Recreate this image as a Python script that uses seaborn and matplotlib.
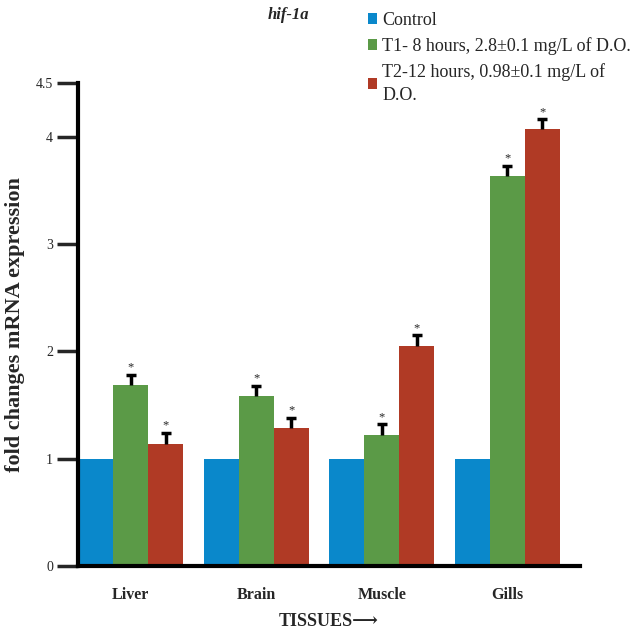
import numpy as np
import pandas as pd
import matplotlib
matplotlib.use("Agg")
import matplotlib.pyplot as plt
import seaborn as sns

tissues = ["Liver", "Brain", "Muscle", "Gills"]
groups = ["Control", "T1- 8 hours, 2.8\u00b10.1 mg/L of D.O.",
          "T2-12 hours, 0.98\u00b10.1 mg/L of\nD.O."]
control = [1.0, 1.0, 1.0, 1.0]
t1 = [1.69, 1.58, 1.22, 3.63]
t2 = [1.14, 1.29, 2.05, 4.07]
t1_err = [0.09, 0.10, 0.10, 0.10]
t2_err = [0.10, 0.09, 0.10, 0.09]
colors = ["#0a88cb", "#5b9a47", "#b03a25"]
yticks = [0, 1, 2, 3, 4, 4.5]
yticklabels = ["0", "1", "2", "3", "4", "4.5"]

sns.set_style("white")
plt.rcParams['font.family'] = ['Liberation Serif', 'DejaVu Serif', 'DejaVu Sans']

rows = []
for g, vals in zip(groups, [control, t1, t2]):
    for t, v in zip(tissues, vals):
        rows.append({"tissue": t, "group": g, "value": v})
df = pd.DataFrame(rows)

fig = plt.figure(figsize=(6.32, 6.32), dpi=100)
ax = fig.add_axes([78/632, 1-566/632, (580-78)/632, (566-83)/632])

sns.barplot(data=df, x="tissue", y="value", hue="group", order=tissues,
            hue_order=groups, palette=colors, width=0.84, errorbar=None,
            saturation=1, linewidth=0, ax=ax)

handles, labels = ax.get_legend_handles_labels()
if ax.get_legend() is not None:
    ax.get_legend().remove()

errs = [None, t1_err, t2_err]
for cont, err in zip(ax.containers, errs):
    if err is None:
        continue
    xs = [b.get_x() + b.get_width()/2 for b in cont]
    hs = [b.get_height() for b in cont]
    eb = ax.errorbar(xs, hs, yerr=[np.zeros(len(err)), err], fmt="none",
                     ecolor="black", elinewidth=2.5, capsize=3.6, capthick=2.5,
                     zorder=5)
    caplines = eb[1]
    if len(caplines) >= 1:
        caplines[0].set_visible(False)
    for x, h, e in zip(xs, hs, err):
        ax.annotate("*", (x, h + e), xytext=(0, 1), textcoords="offset points",
                    ha="center", va="bottom", fontsize=9)

ax.set_xlim(-0.42, 3.58)
ax.set_ylim(0, 4.5)
ax.set_yticks(yticks)
ax.set_yticklabels(yticklabels, fontsize=10)
for sp in ["top", "right"]:
    ax.spines[sp].set_visible(False)
for sp in ["left", "bottom"]:
    ax.spines[sp].set_linewidth(3)
    ax.spines[sp].set_color("black")
ax.tick_params(axis="y", direction="out", length=15, width=2.5, pad=3, left=True)
ax.tick_params(axis="x", length=0, pad=15)
for lbl in ax.get_xticklabels():
    lbl.set_fontweight("bold")
    lbl.set_fontsize(11.5)
ax.set_xlabel("TISSUES\u27f6", fontsize=13, fontweight="bold", labelpad=7)
ax.set_ylabel("fold changes mRNA expression", fontsize=16, fontweight="bold", labelpad=8)

fig.text(288/632, 1-15/632, "hif-1a", fontsize=12, fontweight="bold",
         fontstyle="italic", ha="center", va="center")

leg = fig.legend(handles, labels, loc="upper left", bbox_to_anchor=(368/632, 1-12/632),
                 frameon=False, fontsize=13, handlelength=0.5, handleheight=0.5,
                 handletextpad=0.3, labelspacing=0.45, borderpad=0, borderaxespad=0)
for t in leg.get_texts():
    t.set_linespacing(1.45)

fig.savefig("out.png", dpi=100)
